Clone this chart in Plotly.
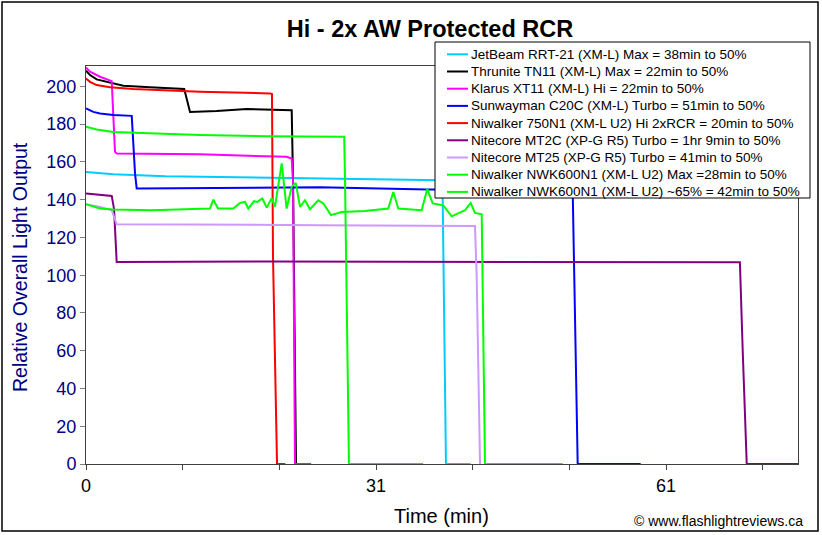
import plotly.graph_objects as go

W, H = 822, 535
ML, MR, MT, MB = 86, 24, 66, 71

names = [
    "JetBeam RRT-21 (XM-L) Max = 38min to 50%",
    "Thrunite TN11 (XM-L) Max = 22min to 50%",
    "Klarus XT11 (XM-L) Hi = 22min to 50%",
    "Sunwayman C20C (XM-L) Turbo = 51min to 50%",
    "Niwalker 750N1 (XM-L U2) Hi 2xRCR = 20min to 50%",
    "Nitecore MT2C (XP-G R5) Turbo = 1hr 9min to 50%",
    "Nitecore MT25 (XP-G R5) Turbo = 41min to 50%",
    "Niwalker NWK600N1 (XM-L U2) Max =28min to 50%",
    "Niwalker NWK600N1 (XM-L U2) ~65% = 42min to 50%",
]
colors = ["#00CCFF", "#000000", "#FF00FF", "#0000FF", "#FF0000",
          "#800080", "#CC99FF", "#00FF00", "#00FF00"]

jetbeam_x = [0, 2.92, 8.5, 25, 35.9, 38.0, 38.13, 38.48, 41.1]
jetbeam_y = [154.7, 153.5, 152.4, 151.2, 150.4, 150.3, 140, 0, 0]

thrunite_x = [0, 0.43, 1.14, 2.57, 3.99, 6.84, 10.5, 11.12, 13.97, 17.18, 21.99, 22.13, 22.45]
thrunite_y = [208.3, 206, 203.7, 202.1, 200.3, 199.5, 198.6, 186.5, 187, 188, 187.4, 150, 0]

klarus_x = [0, 0.43, 1.5, 2.75, 3.10, 3.28, 12.19, 19.32, 21.45, 21.99, 22.13, 22.34, 24.05]
klarus_y = [210, 207.8, 205.1, 202.8, 165.3, 164.5, 164, 163, 162.7, 161.8, 150, 0, 0]

sunwayman_x = [0, 0.78, 1.5, 2.92, 4.89, 5.24, 5.42, 15, 25, 36.5, 50.5, 52.03, 52.56, 59.29]
sunwayman_y = [188.3, 186.5, 185.7, 184.8, 184.4, 153.9, 145.9, 146.4, 146.6, 145.4, 145.3, 144, 0, 0]

niwalker750_x = [0, 0.43, 1.14, 2.57, 5.06, 12.19, 19.67, 19.88, 19.99, 20.31, 20.42, 21.3]
niwalker750_y = [204.2, 202.4, 200.7, 199.5, 198.6, 197.1, 196.3, 196, 110, 40, 0, 0]

mt2c_x = [0, 2.75, 3.0, 3.28, 20, 40, 60, 69.9, 70.2, 70.63, 76.1]
mt2c_y = [143.3, 142, 135, 107, 107.3, 107.2, 107, 106.8, 60, 0, 0]

mt25_x = [0, 1.5, 2.75, 3.28, 25, 41.58, 41.76, 42.12]
mt25_y = [137.6, 136.2, 134.4, 127, 126.5, 126.1, 100, 0]

nwkmax_x = [0, 1.14, 2.92, 6.84, 12.19, 19.32, 25, 27.6, 27.69, 28.11, 36.02]
nwkmax_y = [178.6, 177.2, 175.9, 175.1, 174.2, 173.6, 173.2, 173.3, 150, 0, 0]

nwk65_x = [0, 1.5, 2.92, 7, 13.25, 13.61, 14.11, 15.75, 16.46, 17.0, 17.35, 17.96,
           18.31, 18.85, 19.32, 19.85, 20.2, 20.92, 21.45, 21.99, 22.42, 22.88,
           23.41, 23.94, 24.83, 25.37, 26.19, 27.33, 29.82, 32.31, 32.85, 33.38,
           35.88, 36.48, 37.06, 37.66, 38.19, 39.09, 40.51, 41.12, 41.58, 42.30,
           42.65, 50.96]
nwk65_y = [137.6, 135.3, 134.8, 134.4, 135.3, 140, 135.3, 135.3, 138.3, 138.8, 135.3, 139.2,
           138.8, 140.6, 135.8, 140.8, 136.2, 159.2, 135.3, 146.8, 148.9, 136.2,
           139.7, 134.9, 139.7, 138, 131.8, 133.5, 134, 135.3, 144.1, 135.3,
           134.4, 145.6, 138, 137.6, 137, 131.2, 134.4, 138.3, 133, 132.3,
           0, 0]

series_x = [jetbeam_x, thrunite_x, klarus_x, sunwayman_x, niwalker750_x,
            mt2c_x, mt25_x, nwkmax_x, nwk65_x]
series_y = [jetbeam_y, thrunite_y, klarus_y, sunwayman_y, niwalker750_y,
            mt2c_y, mt25_y, nwkmax_y, nwk65_y]

x_tick_step = 31 / 3
x_tick_text = ["0", "", "", "31", "", "", "61", ""]
y_ticks = list(range(0, 201, 20))

FONT = "Arial, Liberation Sans, sans-serif"
NAVY = "#000080"

fig = go.Figure()
for nm, c, xs, ys in zip(names, colors, series_x, series_y):
    fig.add_trace(go.Scatter(x=xs, y=ys, mode="lines", name=nm,
                             line=dict(color=c, width=2), showlegend=False,
                             hoverinfo="skip"))

pw = W - ML - MR
ph = H - MT - MB


def px_x(px):
    return (px - ML) / pw


def px_y(py):
    return (H - MB - py) / ph


shapes = []
annotations = []

# outer chart frame
shapes.append(dict(type="rect", xref="paper", yref="paper",
                   x0=px_x(2), x1=px_x(818), y0=px_y(531), y1=px_y(2),
                   line=dict(color="#000000", width=1.5), layer="above"))

# legend box
lx0, lx1, ly0, ly1 = 435, 810, 42, 198
shapes.append(dict(type="rect", xref="paper", yref="paper",
                   x0=px_x(lx0), x1=px_x(lx1), y0=px_y(ly1), y1=px_y(ly0),
                   fillcolor="white", line=dict(color="#000000", width=1),
                   layer="above"))
for i, (nm, c) in enumerate(zip(names, colors)):
    cy = 54.3 + 17.2 * i
    shapes.append(dict(type="line", xref="paper", yref="paper",
                       x0=px_x(447), x1=px_x(468), y0=px_y(cy), y1=px_y(cy),
                       line=dict(color=c, width=2), layer="above"))
    annotations.append(dict(text=nm, xref="paper", yref="paper",
                            x=px_x(469), y=px_y(cy), xanchor="left", yanchor="middle",
                            showarrow=False, font=dict(family=FONT, size=13.5, color="black")))

# axis titles
annotations.append(dict(text="Relative Overall Light Output", xref="paper", yref="paper",
                        x=px_x(20), y=px_y(267), xanchor="center", yanchor="middle",
                        textangle=-90, showarrow=False,
                        font=dict(family=FONT, size=19.5, color=NAVY)))
annotations.append(dict(text="Time (min)", xref="paper", yref="paper",
                        x=px_x(441), y=px_y(516), xanchor="center", yanchor="middle",
                        showarrow=False, font=dict(family=FONT, size=20, color="black")))
annotations.append(dict(text="© www.flashlightreviews.ca", xref="paper", yref="paper",
                        x=px_x(805), y=px_y(521), xanchor="right", yanchor="middle",
                        showarrow=False, font=dict(family=FONT, size=14, color="black")))

fig.update_layout(
    width=W, height=H,
    margin=dict(l=ML, r=MR, t=MT, b=MB),
    paper_bgcolor="white", plot_bgcolor="white",
    title=dict(text="<b>Hi - 2x AW Protected RCR</b>", x=430 / W, xref="container",
               xanchor="center", y=1 - 28.5 / H, yref="container", yanchor="middle",
               font=dict(family=FONT, size=23.5, color="black")),
    xaxis=dict(range=[0, 76.11], tickvals=[k * x_tick_step for k in range(8)],
               ticktext=x_tick_text, ticks="outside", ticklen=5, tickcolor="#404040",
               showline=True, linecolor="#404040", linewidth=1, mirror=True,
               showgrid=False, zeroline=False, layer="below traces",
               tickfont=dict(family=FONT, size=18, color="black")),
    yaxis=dict(range=[0, 210.8], tickvals=y_ticks, ticks="outside", ticklen=5,
               tickcolor="#808080", showline=True, linecolor="#404040", linewidth=1,
               mirror=True, showgrid=False, zeroline=False, layer="below traces",
               tickfont=dict(family=FONT, size=18, color=NAVY)),
    shapes=shapes, annotations=annotations,
    showlegend=False,
)

fig.write_html("out.html", config={"displayModeBar": False},
               post_script="document.body.style.margin='0';document.body.style.padding='0';")
